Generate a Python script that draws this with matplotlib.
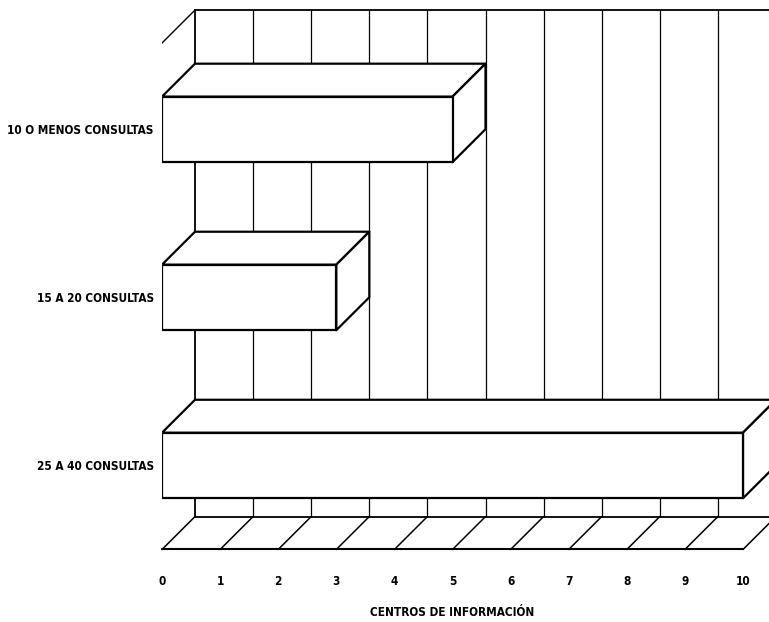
import matplotlib
matplotlib.use("Agg")
import matplotlib.pyplot as plt
from matplotlib.patches import Polygon

plt.rcParams['font.family'] = ['DejaVu Sans']
plt.rcParams['font.stretch'] = 'condensed'

# data
categories = ['25 A 40 CONSULTAS', '15 A 20 CONSULTAS', '10 O MENOS CONSULTAS']
values = [10, 3, 5]
xticks = list(range(0, 11))
xlabel = 'CENTROS DE INFORMACIÓN'

# 3d look
dx = 0.568      # depth offset, x units
dy = 0.196      # depth offset, y units
bar_h = 0.39
floor_y = -0.5
wall_top = 2.71
xmax = 607 / 58.1

fig = plt.figure(figsize=(7.69, 6.22), dpi=100)
ax = fig.add_axes([162 / 769, (622 - 557.9) / 622, 607 / 769, 557.9 / 622])
ax.set_xlim(0, xmax)
ax.set_ylim(-0.55, 2.77)
for s in ax.spines.values():
  s.set_visible(False)

kw = dict(color='black', solid_capstyle='round')

# back wall
ax.plot([dx, dx], [floor_y + dy, wall_top], lw=1.3, **kw)
ax.plot([dx, xmax + 1], [wall_top, wall_top], lw=1.3, **kw)
ax.plot([0, dx], [wall_top - dy, wall_top], lw=1.0, **kw)
for k in xticks[1:]:
  ax.plot([k + dx, k + dx], [floor_y + dy, wall_top], lw=0.9, **kw)

# floor
ax.plot([0, xticks[-1]], [floor_y, floor_y], lw=1.5, clip_on=False, **kw)
ax.plot([dx, xmax + 1], [floor_y + dy, floor_y + dy], lw=1.3, **kw)
for k in xticks:
  ax.plot([k, k + dx], [floor_y, floor_y + dy], lw=1.1, clip_on=False, **kw)

# bars
for i, v in enumerate(values):
  y0 = i - bar_h / 2
  y1 = i + bar_h / 2
  front = [(0, y0), (v, y0), (v, y1), (0, y1)]
  top = [(0, y1), (v, y1), (v + dx, y1 + dy), (dx, y1 + dy)]
  side = [(v, y0), (v, y1), (v + dx, y1 + dy), (v + dx, y0 + dy)]
  for pts in (top, side, front):
    ax.add_patch(Polygon(pts, closed=True, facecolor='white',
                         edgecolor='black', lw=1.6, joinstyle='round',
                         zorder=3))

ax.set_xticks(xticks)
ax.set_xticklabels([str(t) for t in xticks], fontsize=8.5, fontweight='bold')
ax.set_yticks(range(len(categories)))
ax.set_yticklabels(categories, fontsize=8.5, fontweight='bold')
ax.tick_params(axis='x', length=0, pad=12)
ax.tick_params(axis='y', length=0, pad=6)

ax.set_xlabel(xlabel, fontsize=8.5, fontweight='bold', va='center')
ax.xaxis.set_label_coords(5 / xmax, (557.9 - 612) / 557.9)

fig.savefig('out.png', dpi=100, facecolor='white')
